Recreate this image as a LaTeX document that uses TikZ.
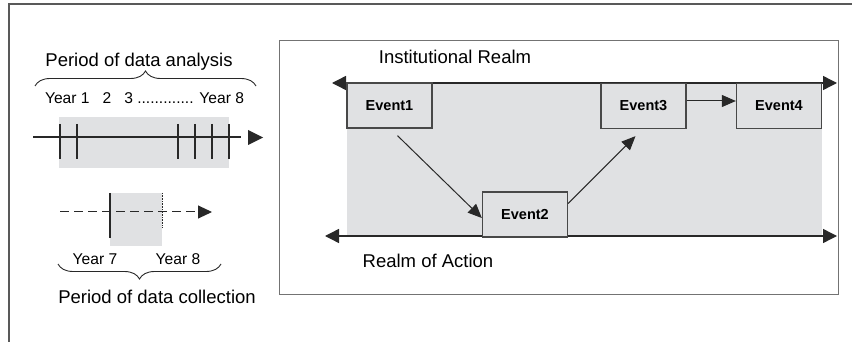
\documentclass[tikz,border=0pt]{standalone}
\usepackage{fontspec}
\setmainfont{Liberation Sans}
\usetikzlibrary{arrows.meta,decorations.pathreplacing}
\definecolor{areagray}{RGB}{224,225,227}
\definecolor{ink}{RGB}{40,40,40}
\tikzset{
  eventbox/.style={draw=ink!85, line width=1.3pt, fill=areagray, minimum width=85pt,
    minimum height=45pt, inner sep=0pt, font=\fontsize{14.5}{16}\selectfont\bfseries},
  biglabel/.style={font=\fontsize{18.5}{20}\selectfont, inner sep=0pt},
  yearlabel/.style={font=\fontsize{15.6}{17}\selectfont, inner sep=0pt},
  flow/.style={draw=ink, line width=1pt, -{Triangle[length=14pt,width=12pt]}},
  realm/.style={draw=ink, line width=1.4pt,
    {Triangle[length=14pt,width=14pt]}-{Triangle[length=14pt,width=14pt]}},
  bracket/.style={draw=ink, line width=0.9pt, decorate,
    decoration={brace, amplitude=15pt}},
}

\begin{document}
\begin{tikzpicture}[x=1pt, y=-1pt]
		%%%%% START %%%%%
		\useasboundingbox (0, 0) rectangle (852, 342);
		
		% outer frame
		\draw[line width=1.5pt, color=black!65] (9, 342) -- (9, 4) -- (852, 4);
		
		% left side: data analysis
		\node[biglabel] (analysis) at (139, 62) {Period of data analysis};
		\draw[bracket] (35, 86) -- (256, 86);
		\node[yearlabel] (years) at (144.5, 98) {Year 1\ \ \ 2\ \ \ 3 ............. Year 8};
		
		\fill[areagray] (59, 117) rectangle (229, 168);
		\draw[line width=1.2pt, color=ink] (33, 137) -- (241, 137);
		\foreach \x in {60, 77, 178, 195, 212, 229}
			\draw[line width=1.2pt, color=ink] (\x, 124) -- (\x, 159);
		\fill[ink] (248, 130) -- (263, 137.5) -- (248, 145) -- cycle;
		
		% left side: data collection
		\fill[areagray] (110, 193) rectangle (162, 246);
		\draw[line width=1pt, color=ink, dash pattern=on 9pt off 5pt,
			-{Triangle[length=14pt,width=13pt]}] (60, 212) -- (212, 212);
		\draw[line width=1.2pt, color=ink] (110, 193) -- (110, 238);
		\draw[line width=0.6pt, color=ink, densely dotted] (162, 193) -- (162, 228);
		\node[yearlabel] (y7) at (95, 259) {Year 7};
		\node[yearlabel] (y8) at (178, 259) {Year 8};
		\draw[bracket] (221, 264) -- (58, 264);
		\node[biglabel] (collection) at (157, 297) {Period of data collection};
		
		% right side: realms
		\draw[line width=0.8pt, color=black!55] (279, 40) rectangle (838, 294);
		\fill[areagray] (347, 83) rectangle (822, 236);
		\node[biglabel] (inst) at (455, 57) {Institutional Realm};
		\node[biglabel] (action) at (428, 261) {Realm of Action};
		
		\coordinate (instL) at (332, 83);
		\coordinate (instR) at (837, 83);
		\coordinate (actL) at (325, 236);
		\coordinate (actR) at (837, 236);
		\draw[realm] (instL) -- (instR);
		\draw[realm] (actL) -- (actR);
		
		\node[eventbox] (e1) at (389.5, 105.5) {Event1};
		\node[eventbox] (e2) at (525, 214.5) {Event2};
		\node[eventbox] (e3) at (643.5, 106) {Event3};
		\node[eventbox] (e4) at (779, 106) {Event4};
		
		\draw[flow] ([xshift=8pt, yshift=-7pt]e1.south) -- ([yshift=-3.5pt]e2.west);
		\draw[flow] ([yshift=11pt]e2.east) -- ([xshift=-8pt, yshift=-7pt]e3.south);
		\draw[flow] ([yshift=5pt]e3.east) -- ([yshift=5pt]e4.west);
		
		%%%%% END %%%%%
\end{tikzpicture}
\end{document}
